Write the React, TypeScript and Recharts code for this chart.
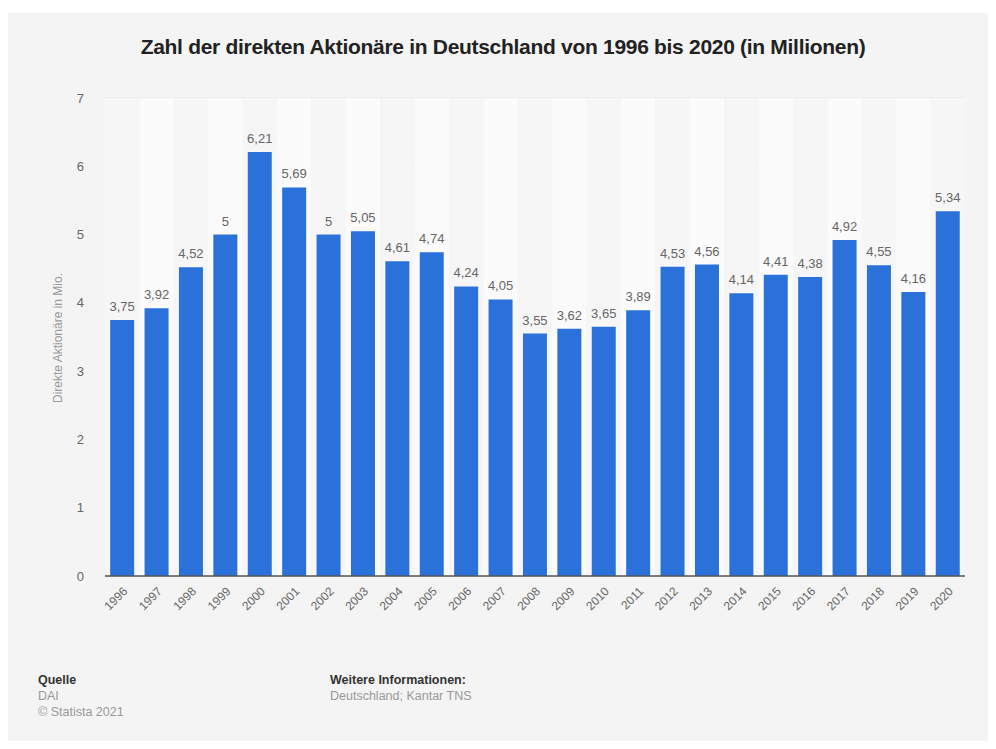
import React from 'react';
import {
  BarChart,
  Bar,
  XAxis,
  YAxis,
  CartesianGrid,
  ReferenceArea,
  LabelList,
} from 'recharts';

const years = [
  '1996', '1997', '1998', '1999', '2000', '2001', '2002', '2003', '2004',
  '2005', '2006', '2007', '2008', '2009', '2010', '2011', '2012', '2013',
  '2014', '2015', '2016', '2017', '2018', '2019', '2020',
];
const shareholders = [
  3.75, 3.92, 4.52, 5, 6.21, 5.69, 5, 5.05, 4.61, 4.74, 4.24, 4.05, 3.55,
  3.62, 3.65, 3.89, 4.53, 4.56, 4.14, 4.41, 4.38, 4.92, 4.55, 4.16, 5.34,
];
const yTicks = [0, 1, 2, 3, 4, 5, 6, 7];

const data = years.map((year, i) => ({ year, value: shareholders[i] }));

const FONT = '"Liberation Sans", Arial, Helvetica, sans-serif';

const fmt = (v: any) => String(v).replace('.', ',');

export default function App() {
  return (
    <div
      style={{
        position: 'relative',
        margin: -8,
        width: 996,
        height: 749,
        background: '#fff',
        fontFamily: FONT,
        overflow: 'hidden',
      }}
    >
      <div
        style={{
          position: 'absolute',
          left: 7,
          top: 13,
          width: 989,
          height: 736,
          background: '#f4f4f4',
        }}
      />
      <div
        style={{
          position: 'absolute',
          left: 0,
          top: 35,
          width: 1006,
          textAlign: 'center',
          fontWeight: 'bold',
          fontSize: 21,
          color: '#222',
          letterSpacing: -0.3,
        }}
      >
        Zahl der direkten Aktionäre in Deutschland von 1996 bis 2020 (in Millionen)
      </div>
      <div style={{ position: 'absolute', left: 0, top: 0 }}>
        <BarChart
          width={996}
          height={749}
          data={data}
          margin={{ top: 98, right: 31, bottom: 123, left: 65 }}
          barCategoryGap="15%"
        >
          {years.map((y, i) => (
            <ReferenceArea
              key={y}
              x1={y}
              x2={y}
              y1={0}
              y2={7}
              fill={i % 2 === 1 ? '#fbfbfb' : '#f6f6f6'}
              fillOpacity={1}
              stroke="none"
            />
          ))}
          <CartesianGrid vertical={false} stroke="#e4e4e4" />
          <XAxis
            dataKey="year"
            interval={0}
            tickLine={false}
            axisLine={{ stroke: '#555', strokeWidth: 1.5 }}
            angle={-45}
            textAnchor="end"
            height={50}
            tickMargin={4}
            tick={{ fontSize: 12, fill: '#666', fontFamily: FONT }}
          />
          <YAxis
            domain={[0, 7]}
            ticks={yTicks}
            width={40}
            tickLine={false}
            axisLine={false}
            tickMargin={15}
            tick={{ fontSize: 13, fill: '#666', fontFamily: FONT }}
          />
          <Bar dataKey="value" fill="#2a72da" isAnimationActive={false}>
            <LabelList
              dataKey="value"
              position="top"
              offset={9}
              formatter={fmt}
              style={{ fontSize: 13, fill: '#666', fontFamily: FONT }}
            />
          </Bar>
        </BarChart>
      </div>
      <div
        style={{
          position: 'absolute',
          left: 58,
          top: 338,
          transform: 'translate(-50%, -50%) rotate(-90deg)',
          fontSize: 12,
          color: '#999',
          whiteSpace: 'nowrap',
        }}
      >
        Direkte Aktionäre in Mio.
      </div>
      <div style={{ position: 'absolute', left: 38, top: 672, fontSize: 12.5, lineHeight: '16px' }}>
        <div style={{ fontWeight: 'bold', color: '#333' }}>Quelle</div>
        <div style={{ color: '#999' }}>DAI</div>
        <div style={{ color: '#999' }}>© Statista 2021</div>
      </div>
      <div style={{ position: 'absolute', left: 330, top: 672, fontSize: 12.5, lineHeight: '16px' }}>
        <div style={{ fontWeight: 'bold', color: '#333' }}>Weitere Informationen:</div>
        <div style={{ color: '#999' }}>Deutschland; Kantar TNS</div>
      </div>
    </div>
  );
}
